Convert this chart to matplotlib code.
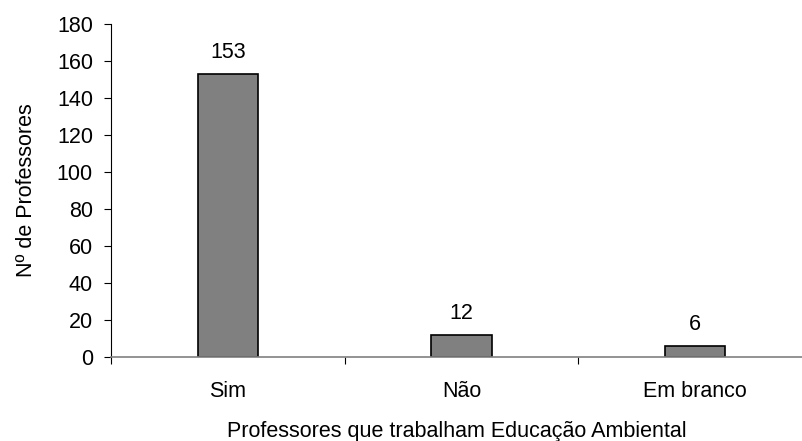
import numpy as np
import matplotlib.pyplot as plt

plt.rcParams['font.family'] = ['Liberation Sans', 'DejaVu Sans']

categorias = ["Sim", "Não", "Em branco"]
valores = [153, 12, 6]
yticks = [0, 20, 40, 60, 80, 100, 120, 140, 160, 180]

W, H = 803, 441
fs = 15.5
fig = plt.figure(figsize=(W / 100, H / 100), dpi=100)
# axes box in pixels: left 111, right 802, top 24, bottom 357
ax = fig.add_axes([111 / W, 1 - 357 / H, (802 - 111) / W, (357 - 24) / H])

x = np.arange(len(categorias))
bars = ax.bar(x, valores, width=0.257, color="#808080", edgecolor="black", linewidth=1.2)

for xi, v in zip(x, valores):
    ax.annotate(str(v), (xi, v), xytext=(0, 8), textcoords="offset points",
                ha="center", va="bottom", fontsize=fs)

ax.set_ylim(0, 180)
ax.set_xlim(-0.5, 2.5 - 10 / 233)
ax.set_yticks(yticks)
ax.tick_params(axis="y", direction="out", length=5, width=0.8, labelsize=fs, pad=8)

# ticks between categories on x axis
ax.set_xticks([-0.5, 0.5, 1.5])
ax.set_xticklabels([])
ax.set_xticks(x, minor=True)
ax.set_xticklabels(categorias, minor=True, fontsize=fs)
ax.tick_params(axis="x", which="major", direction="out", length=5, width=0.8)
ax.tick_params(axis="x", which="minor", length=0, pad=17)

for s in ["top", "right"]:
    ax.spines[s].set_visible(False)
ax.spines["bottom"].set_color("#808080")
ax.spines["bottom"].set_linewidth(1.2)
ax.spines["left"].set_linewidth(0.8)

ax.set_ylabel("Nº de Professores", fontsize=fs, labelpad=14)
ax.set_xlabel("Professores que trabalham Educação Ambiental", fontsize=fs, labelpad=14)

fig.savefig("out.png", dpi=100)
